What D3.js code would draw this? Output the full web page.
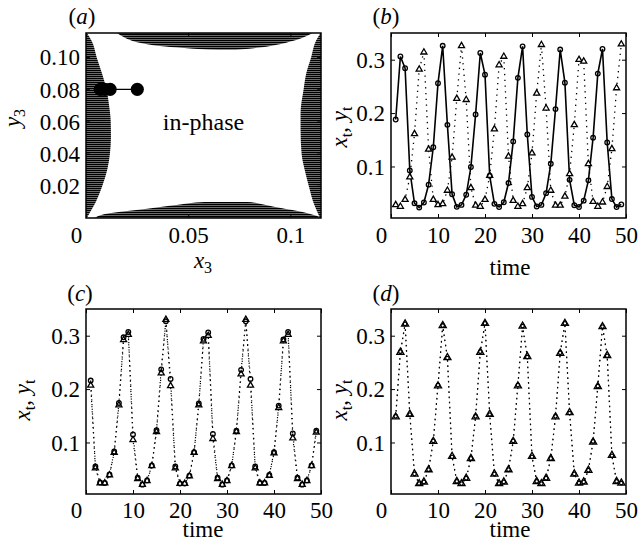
<!DOCTYPE html>
<html lang="en">
<head>
<meta charset="UTF-8">
<title>in-phase</title>
<style>
    body{margin:0;background:#fff;}
    text{font-family:"Liberation Serif","Times New Roman",serif;fill:#000;}
</style>
</head>
<body>
<script src="https://cdnjs.cloudflare.com/ajax/libs/d3/7.8.5/d3.min.js"></script>
<script>
    var width=638, height=546;

    // ---- panel (a): parameter plane ----
    var aXTicks=[0,0.05,0.1], aXTickLabels=["0","0.05","0.1"];
    var aYTicks=[0.02,0.04,0.06,0.08,0.10], aYTickLabels=["0.02","0.04","0.06","0.08","0.10"];
    // [x3, y3 of lower edge] of the top region
    var topEdge=[[0.0150,0.115],[0.020,0.1115],[0.030,0.108],[0.045,0.106],[0.060,0.1048],[0.070,0.1046],
        [0.085,0.106],[0.098,0.109],[0.106,0.112],[0.111,0.115]];
    // [x3, y3 of upper edge] of the bottom region
    var bottomEdge=[[0.004,0],[0.006,0.0012],[0.017,0.0039],[0.030,0.0058],[0.041,0.0076],[0.058,0.0100],
        [0.079,0.0100],[0.088,0.0081],[0.096,0.0060],[0.106,0.0037],[0.1127,0.0014],[0.115,0.0005]];
    // [y3, x3 of right edge] of the left region
    var leftEdge=[[0,0.0004],[0.004,0.0022],[0.010,0.0048],[0.020,0.0080],[0.030,0.0104],[0.040,0.0117],
        [0.050,0.0122],[0.060,0.0121],[0.070,0.0113],[0.080,0.0100],[0.090,0.0078],[0.100,0.0052],
        [0.110,0.0028],[0.115,0.0004]];
    // [y3, x3 of left edge] of the right region
    var rightEdge=[[0,0.1145],[0.003,0.1135],[0.010,0.1112],[0.020,0.1090],[0.030,0.1070],[0.040,0.1055],
        [0.055,0.1050],[0.065,0.1050],[0.080,0.1065],[0.090,0.1078],[0.100,0.1102],[0.110,0.1125],[0.115,0.1148]];
    var dotsX=[0.0070,0.0092,0.0118,0.0251];
    var dotsY=[0.08,0.08,0.08,0.08];

    // ---- time series panels ----
    var time=[1,2,3,4,5,6,7,8,9,10,11,12,13,14,15,16,17,18,19,20,21,22,23,24,25,
        26,27,28,29,30,31,32,33,34,35,36,37,38,39,40,41,42,43,44,45,46,47,48,49];
    var tTicks=[0,10,20,30,40,50], tTickLabels=["0","10","20","30","40","50"];
    var vTicks=[0.1,0.2,0.3], vTickLabels=["0.1","0.2","0.3"];

    var bX=[0.188,0.306,0.284,0.0925,0.031,0.023,0.0325,0.066,0.136,0.256,0.326,0.178,0.048,0.0244,0.028,
        0.047,0.099,0.1975,0.3125,0.272,0.0825,0.030,0.024,0.033,0.069,0.147,0.266,0.325,0.160,0.043,
        0.025,0.028,0.050,0.105,0.2075,0.319,0.257,0.075,0.0275,0.024,0.036,0.074,0.154,0.274,0.320,
        0.145,0.039,0.024,0.029];
    var bY=[0.028,0.025,0.038,0.080,0.161,0.282,0.314,0.132,0.038,0.028,0.030,0.055,0.117,0.227,0.326,
        0.225,0.060,0.027,0.025,0.038,0.083,0.170,0.290,0.306,0.119,0.036,0.025,0.030,0.060,0.125,
        0.237,0.328,0.209,0.055,0.027,0.027,0.044,0.086,0.178,0.300,0.297,0.105,0.034,0.025,0.033,
        0.062,0.133,0.247,0.329];

    var cX=[0.216,0.055,0.025,0.024,0.040,0.083,0.174,0.297,0.307,0.115,0.034,0.021,0.029,0.057,0.123,
        0.237,0.327,0.219,0.055,0.023,0.023,0.038,0.082,0.173,0.294,0.306,0.116,0.034,0.021,0.029,
        0.057,0.122,0.236,0.327,0.219,0.055,0.024,0.024,0.039,0.082,0.169,0.293,0.307,0.117,0.034,
        0.021,0.029,0.057,0.122];
    var cY=[0.207,0.052,0.024,0.024,0.039,0.081,0.170,0.292,0.302,0.105,0.032,0.021,0.028,0.056,0.120,
        0.230,0.330,0.206,0.052,0.023,0.023,0.037,0.081,0.170,0.290,0.300,0.107,0.032,0.021,0.028,
        0.056,0.120,0.228,0.330,0.207,0.052,0.024,0.024,0.038,0.080,0.165,0.290,0.302,0.108,0.032,
        0.021,0.028,0.056,0.119];

    var dX=[0.149,0.270,0.322,0.152,0.041,0.023,0.026,0.049,0.103,0.2075,0.319,0.258,0.073,0.027,0.023,
        0.033,0.070,0.149,0.270,0.323,0.152,0.041,0.023,0.026,0.049,0.103,0.2075,0.318,0.260,0.073,
        0.027,0.023,0.033,0.070,0.149,0.268,0.323,0.155,0.041,0.024,0.026,0.048,0.102,0.2055,0.317,
        0.262,0.075,0.027,0.024];
    var dY=[0.148,0.269,0.322,0.153,0.041,0.023,0.026,0.049,0.102,0.206,0.319,0.259,0.074,0.027,0.023,
        0.033,0.070,0.148,0.269,0.323,0.153,0.041,0.023,0.026,0.049,0.102,0.206,0.318,0.261,0.074,
        0.027,0.023,0.033,0.070,0.148,0.267,0.323,0.156,0.041,0.024,0.026,0.048,0.101,0.205,0.317,
        0.263,0.076,0.027,0.024];

    var FS=23;

    var svg=d3.select('body')
            .append('svg')
            .attr('width',width)
            .attr('height',height);

    var defs=svg.append('defs');
    var pat=defs.append('pattern')
            .attr('id','hatch')
            .attr('patternUnits','userSpaceOnUse')
            .attr('width',2).attr('height',2);
    pat.append('rect').attr('width',2).attr('height',2).attr('fill','#999');
    pat.append('rect').attr('width',2).attr('height',1.3).attr('fill','#000');

    // text with italic / subscript parts
    function richText(t, parts){
        var shift=0;
        parts.forEach(function(p){
            var ts=t.append('tspan').text(p[0]);
            var want=p[1]==='sub'?5:0;
            if(want!==shift){ ts.attr('dy',want-shift); shift=want; }
            if(p[1]==='sub') ts.attr('font-size',16);
            if(p[1]==='i') ts.attr('font-style','italic');
        });
        return t;
    }

    function drawAxes(g, x, y, xTicks, xLabels, yTicks, yLabels, xLabelBase){
        var xr=x.range(), yr=y.range();
        var bottom=g.append('g').attr('transform','translate(0,'+yr[0]+')')
                .call(d3.axisBottom(x).tickValues(xTicks)
                    .tickFormat(function(d,i){return xLabels[i];})
                    .tickSizeInner(-4).tickSizeOuter(0));
        bottom.selectAll('text')
                .attr('y',xLabelBase).attr('dy',0)
                .attr('dx',function(d,i){ return i===0?-10:0; });
        g.append('g').attr('transform','translate(0,'+yr[1]+')')
                .call(d3.axisTop(x).tickValues(xTicks).tickFormat('').tickSizeInner(-4).tickSizeOuter(0));
        var left=g.append('g').attr('transform','translate('+xr[0]+',0)')
                .call(d3.axisLeft(y).tickValues(yTicks)
                    .tickFormat(function(d,i){return yLabels[i];})
                    .tickSizeInner(-4).tickSizeOuter(0).tickPadding(6));
        left.selectAll('text').attr('x',-6).attr('dy','0.34em');
        g.append('g').attr('transform','translate('+xr[1]+',0)')
                .call(d3.axisRight(y).tickValues(yTicks).tickFormat('').tickSizeInner(-4).tickSizeOuter(0));
        g.selectAll('.domain').remove();
        g.selectAll('.tick line').attr('stroke','#000').attr('stroke-width',1);
        g.selectAll('g').attr('font-size',FS).attr('font-family','"Liberation Serif",serif');
        g.selectAll('.tick text').attr('font-size',FS).attr('fill','#000');
        g.append('rect')
                .attr('x',xr[0]).attr('y',yr[1])
                .attr('width',xr[1]-xr[0]).attr('height',yr[0]-yr[1])
                .attr('fill','none').attr('stroke','#000').attr('stroke-width',1.5);
    }

    function panelLabel(cx, base, letter){
        richText(svg.append('text').attr('x',cx).attr('y',base)
                .attr('text-anchor','middle').attr('font-size',FS),
            [['(',''],[letter,'i'],[')','']]);
    }

    function yLabel(bx, cy, parts){
        richText(svg.append('text')
                .attr('transform','translate('+bx+','+cy+') rotate(-90)')
                .attr('text-anchor','middle').attr('font-size',FS), parts);
    }

    function xLabel(cx, base, parts){
        richText(svg.append('text').attr('x',cx).attr('y',base)
                .attr('text-anchor','middle').attr('font-size',FS), parts);
    }

    // ---------- panel (a) ----------
    var xA=d3.scaleLinear().domain([0,0.115]).range([86,321]);
    var yA=d3.scaleLinear().domain([0,0.115]).range([218,33]);
    defs.append('clipPath').attr('id','clipA').append('rect')
            .attr('x',86).attr('y',33).attr('width',235).attr('height',185);
    var gA=svg.append('g');
    var regions=gA.append('g').attr('clip-path','url(#clipA)');
    regions.append('path').datum(topEdge)
            .attr('d',d3.area().curve(d3.curveMonotoneX).x(function(d){return xA(d[0]);})
                .y0(yA(0.115)).y1(function(d){return yA(d[1]);}))
            .attr('fill','url(#hatch)');
    regions.append('path').datum(bottomEdge)
            .attr('d',d3.area().curve(d3.curveMonotoneX).x(function(d){return xA(d[0]);})
                .y0(yA(0)).y1(function(d){return yA(d[1]);}))
            .attr('fill','url(#hatch)');
    regions.append('path').datum(leftEdge)
            .attr('d',d3.area().curve(d3.curveMonotoneY).y(function(d){return yA(d[0]);})
                .x0(xA(0)).x1(function(d){return xA(d[1]);}))
            .attr('fill','url(#hatch)');
    regions.append('path').datum(rightEdge)
            .attr('d',d3.area().curve(d3.curveMonotoneY).y(function(d){return yA(d[0]);})
                .x0(function(d){return xA(d[1]);}).x1(xA(0.115)))
            .attr('fill','url(#hatch)');

    var dots=dotsX.map(function(v,i){return [v,dotsY[i]];});
    gA.append('path').datum(dots)
            .attr('d',d3.line().x(function(d){return xA(d[0]);}).y(function(d){return yA(d[1]);}))
            .attr('fill','none').attr('stroke','#000').attr('stroke-width',1.2);
    gA.selectAll('circle.dot').data(dots).enter().append('circle')
            .attr('class','dot')
            .attr('cx',function(d){return xA(d[0]);})
            .attr('cy',function(d){return yA(d[1]);})
            .attr('r',6.6).attr('fill','#000');
    gA.append('text').attr('x',xA(0.0575)).attr('y',yA(0.0545))
            .attr('text-anchor','middle').attr('font-size',24).text('in-phase');
    drawAxes(gA, xA, yA, aXTicks, aXTickLabels, aYTicks, aYTickLabels, 25);
    panelLabel(82, 24, 'a');
    yLabel(20, 118, [['y','i'],['3','sub']]);
    xLabel(203, 268, [['x','i'],['3','sub']]);

    // ---------- time series panels ----------
    function seriesPanel(x0, y0, xs, ys, opts){
        var x=d3.scaleLinear().domain([0,50]).range([x0,x0+235]);
        var y=d3.scaleLinear().domain([0.0035,0.35]).range([y0+185,y0]);
        var tri=d3.symbol().type(d3.symbolTriangle).size(opts.tri);
        var g=svg.append('g');
        var line=d3.line().x(function(d,i){return x(time[i]);}).y(function(d){return y(d);});
        g.append('path').datum(ys).attr('d',line)
                .attr('fill','none').attr('stroke','#000')
                .attr('stroke-width',opts.yWidth).attr('stroke-dasharray',opts.yDash);
        g.append('path').datum(xs).attr('d',line)
                .attr('fill','none').attr('stroke','#000')
                .attr('stroke-width',opts.xWidth).attr('stroke-dasharray',opts.xDash);
        g.selectAll('path.tri').data(ys).enter().append('path')
                .attr('class','tri')
                .attr('d',tri)
                .attr('transform',function(d,i){return 'translate('+x(time[i])+','+y(d)+')';})
                .attr('fill','#fff').attr('stroke','#000').attr('stroke-width',1.3);
        g.selectAll('circle.pt').data(xs).enter().append('circle')
                .attr('class','pt')
                .attr('cx',function(d,i){return x(time[i]);})
                .attr('cy',function(d){return y(d);})
                .attr('r',opts.r).attr('fill','none').attr('stroke','#000').attr('stroke-width',1.3);
        drawAxes(g, x, y, tTicks, tTickLabels, vTicks, vTickLabels, opts.tickBase);
    }

    var xyParts=[['x','i'],['t','sub'],[', ',''],['y','i'],['t','sub']];

    // (b)
    seriesPanel(391, 33, bX, bY, {xWidth:1.6, xDash:null, yWidth:1.3, yDash:'1.3,4.5', r:2.3, tri:16, tickBase:25});
    panelLabel(386, 24, 'b');
    yLabel(347, 127, xyParts);
    xLabel(510, 275, [['time','']]);

    // (c)
    seriesPanel(86, 309, cX, cY, {xWidth:1.2, xDash:'1.2,3.5', yWidth:1.2, yDash:'1.2,4', r:2.3, tri:16, tickBase:24});
    panelLabel(80, 301, 'c');
    yLabel(30, 400, xyParts);
    xLabel(203, 537, [['time','']]);

    // (d)
    seriesPanel(391, 309, dX, dY, {xWidth:1.2, xDash:'1.2,4', yWidth:1.2, yDash:'1.2,4', r:1.8, tri:22, tickBase:24});
    panelLabel(386, 301, 'd');
    yLabel(347, 400, xyParts);
    xLabel(510, 537, [['time','']]);
</script>
</body>
</html>
